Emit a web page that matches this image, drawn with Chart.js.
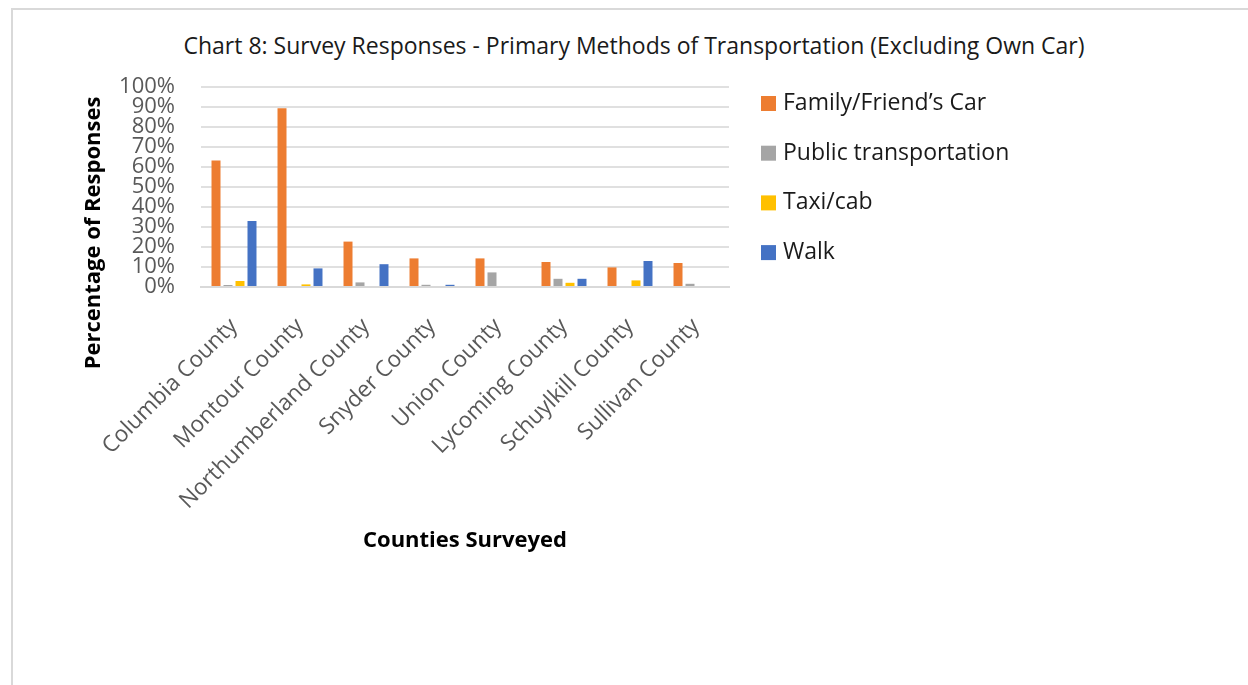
<!DOCTYPE html>
<html>
<head>
<meta charset="utf-8">
<title>Chart 8: Survey Responses</title>
<script src="https://cdn.jsdelivr.net/npm/chart.js"></script>
<style>
  html, body { margin: 0; background: #fff; }
  body { width: 1248px; height: 685px; position: relative; overflow: hidden; font-family: "Open Sans", sans-serif; }
  .frame { position: absolute; left: 11px; top: 8px; width: 1300px; height: 720px; border: 2px solid #d9d9d9; box-sizing: border-box; }
  #chartTitle { position: absolute; left: 20px; right: 0; top: 30px; text-align: center; font-size: 23px; line-height: 30px; color: #1a1a1a; }
  #wrap { position: absolute; left: 0; top: 0; width: 1248px; height: 685px; }
</style>
</head>
<body>
<div class="frame"></div>
<div id="chartTitle">Chart 8: Survey Responses - Primary Methods of Transportation (Excluding Own Car)</div>
<div id="wrap"><canvas id="transportChart"></canvas></div>

<script>
  const counties = ['Columbia County', 'Montour County', 'Northumberland County', 'Snyder County',
                    'Union County', 'Lycoming County', 'Schuylkill County', 'Sullivan County'];
  const familyCar     = [63.2, 89.4, 22.7, 14.3, 14.3, 12.5, 9.8, 12.0];
  const publicTransit = [1.0, 0, 2.3, 1.1, 7.3, 4.1, 0, 1.6];
  const taxiCab       = [3.0, 1.3, 0, 0, 0, 2.1, 3.3, 0];
  const walk          = [33.0, 9.3, 11.4, 1.1, 0, 4.1, 13.0, 0];
  const yTicks = [0, 10, 20, 30, 40, 50, 60, 70, 80, 90, 100];

  const FONT = '"Open Sans", sans-serif';

  // y axis title sits lower than the plot centre, so it is drawn by hand
  const yTitlePlugin = {
    id: 'yTitle',
    afterDraw(chart) {
      const ctx = chart.ctx;
      ctx.save();
      ctx.translate(94, 233);
      ctx.rotate(-Math.PI / 2);
      ctx.font = 'bold 22px ' + FONT;
      ctx.fillStyle = '#000';
      ctx.textAlign = 'center';
      ctx.textBaseline = 'middle';
      ctx.fillText('Percentage of Responses', 0, 0);
      ctx.restore();
    }
  };

  // legend to the right of the plot, one row per dataset
  const sideLegend = {
    id: 'sideLegend',
    afterDraw(chart) {
      const ctx = chart.ctx;
      ctx.save();
      ctx.font = '23px ' + FONT;
      ctx.textBaseline = 'middle';
      chart.data.datasets.forEach((ds, i) => {
        const y = 96 + i * 49.7;
        ctx.fillStyle = ds.backgroundColor;
        ctx.fillRect(761, y, 15, 15);
        ctx.fillStyle = '#1a1a1a';
        ctx.fillText(ds.label, 783, y + 7.5);
      });
      ctx.restore();
    }
  };

  new Chart(document.getElementById('transportChart'), {
    type: 'bar',
    data: {
      labels: counties,
      datasets: [
        { label: 'Family/Friend\u2019s Car', data: familyCar, backgroundColor: '#ED7D31' },
        { label: 'Public transportation', data: publicTransit, backgroundColor: '#A5A5A5' },
        { label: 'Taxi/cab', data: taxiCab, backgroundColor: '#FFC000' },
        { label: 'Walk', data: walk, backgroundColor: '#4472C4' }
      ]
    },
    options: {
      responsive: true,
      maintainAspectRatio: false,
      animation: false,
      layout: { padding: { left: 0, right: 519, top: 87, bottom: 131 } },
      datasets: { bar: { categoryPercentage: 0.727, barPercentage: 0.75 } },
      scales: {
        x: {
          grid: { display: false },
          border: { display: true, color: '#d9d9d9', width: 2 },
          ticks: {
            minRotation: 45, maxRotation: 45, autoSkip: false,
            color: '#595959', font: { family: FONT, size: 22.5 }, padding: 18
          },
          title: {
            display: true, text: 'Counties Surveyed', color: '#000',
            font: { family: FONT, size: 22, weight: 'bold' }, padding: 0
          },
          afterFit(scale) { scale.height = 267; }
        },
        y: {
          min: 0, max: 100,
          afterBuildTicks(scale) { scale.ticks = yTicks.map(v => ({ value: v })); },
          grid: { color: '#e0e0e0', lineWidth: 2, drawTicks: false },
          border: { display: false },
          ticks: {
            autoSkip: false,
            color: '#595959', font: { family: FONT, size: 22 }, padding: 26,
            callback: v => v + '%'
          },
          afterFit(scale) { scale.width = 201; }
        }
      },
      plugins: {
        legend: { display: false },
        title: { display: false },
        tooltip: { enabled: false }
      }
    },
    plugins: [yTitlePlugin, sideLegend]
  });
</script>
</body>
</html>
